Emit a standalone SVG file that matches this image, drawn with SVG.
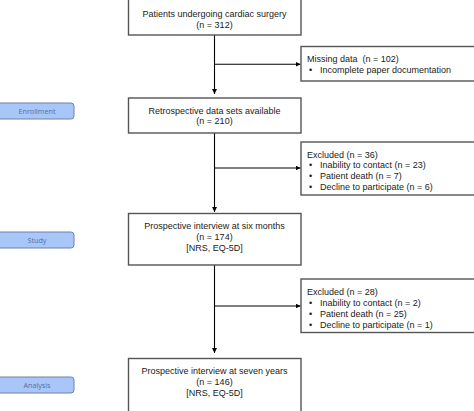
<svg xmlns="http://www.w3.org/2000/svg" width="474" height="411" viewBox="0 0 474 411">
<defs>
<style>
.box{fill:#fff;stroke:#555;stroke-width:1.4}
.pill{fill:#a9c6f8;stroke:#6f82a6;stroke-width:1}
.t{font-family:"Liberation Sans",Arial,sans-serif;font-size:9px;fill:#1a1a1a}
.c{text-anchor:middle}
.p{font-family:"Open Sans","Liberation Sans",sans-serif;font-size:7.2px;fill:#4f70ad;text-anchor:middle}
.ln{stroke:#000;stroke-width:1.1;fill:none}
</style>
<marker id="ah" viewBox="0 0 10 10" refX="10" refY="5" markerWidth="4.5" markerHeight="4.5" orient="auto"><path d="M0,0 L10,5 L0,10 z" fill="#000"/></marker>
</defs>
<rect width="474" height="411" fill="#fff"/>
<g id="connectors">
<path class="ln" d="M214.5,35 V94" marker-end="url(#ah)"/>
<path class="ln" d="M214.5,64.3 H300.5" marker-end="url(#ah)"/>
<path class="ln" d="M214.5,133 V212" marker-end="url(#ah)"/>
<path class="ln" d="M214.5,168 H300.5" marker-end="url(#ah)"/>
<path class="ln" d="M214.5,265 V353" marker-end="url(#ah)"/>
<path class="ln" d="M214.5,306 H300.5" marker-end="url(#ah)"/>
</g>
<g id="enrollment"><rect class="pill" x="-4" y="103" width="78" height="16" rx="3"/><text class="p" x="37" y="113.5">Enrollment</text></g>
<g id="study"><rect class="pill" x="-4" y="232" width="78" height="16" rx="3"/><text class="p" x="37" y="242.5">Study</text></g>
<g id="analysis"><rect class="pill" x="-4" y="377" width="78" height="16" rx="3"/><text class="p" x="37" y="387.5">Analysis</text></g>
<g id="n1"><rect class="box" x="128.5" y="-2" width="172.5" height="37"/>
<text class="t c" x="214.5" y="16.8">Patients undergoing cardiac surgery</text>
<text class="t c" x="214.5" y="27.5">(n = 312)</text></g>
<g id="n2"><rect class="box" x="301" y="46.5" width="180" height="34.5"/>
<text class="t" x="307" y="61.8">Missing data&#160; (n = 102)</text>
<text class="t" x="309" y="72.5">•</text><text class="t" x="320" y="72.5">Incomplete paper documentation</text></g>
<g id="n3"><rect class="box" x="128.5" y="98" width="172.5" height="35"/>
<text class="t c" x="214.5" y="113.5">Retrospective data sets available</text>
<text class="t c" x="214.5" y="124.2">(n = 210)</text></g>
<g id="n4"><rect class="box" x="301" y="142" width="180" height="53"/>
<text class="t" x="307" y="157.5">Excluded (n = 36)</text>
<text class="t" x="309" y="168.2">•</text><text class="t" x="320" y="168.2">Inability to contact (n = 23)</text>
<text class="t" x="309" y="178.9">•</text><text class="t" x="320" y="178.9">Patient death (n = 7)</text>
<text class="t" x="309" y="189.8">•</text><text class="t" x="320" y="189.8">Decline to participate (n = 6)</text></g>
<g id="n5"><rect class="box" x="128.5" y="213.5" width="172.5" height="51.5"/>
<text class="t c" x="214.5" y="229.4">Prospective interview at six months</text>
<text class="t c" x="214.5" y="240.4">(n = 174)</text>
<text class="t c" x="214.5" y="251.4">[NRS, EQ-5D]</text></g>
<g id="n6"><rect class="box" x="301" y="279" width="180" height="53.5"/>
<text class="t" x="307" y="295.4">Excluded (n = 28)</text>
<text class="t" x="309" y="306.1">•</text><text class="t" x="320" y="306.1">Inability to contact (n = 2)</text>
<text class="t" x="309" y="316.8">•</text><text class="t" x="320" y="316.8">Patient death (n = 25)</text>
<text class="t" x="309" y="327.7">•</text><text class="t" x="320" y="327.7">Decline to participate (n = 1)</text></g>
<g id="n7"><rect class="box" x="128.5" y="358.5" width="172.5" height="60"/>
<text class="t c" x="214.5" y="374">Prospective interview at seven years</text>
<text class="t c" x="214.5" y="385">(n = 146)</text>
<text class="t c" x="214.5" y="396.3">[NRS, EQ-5D]</text></g>
</svg>
